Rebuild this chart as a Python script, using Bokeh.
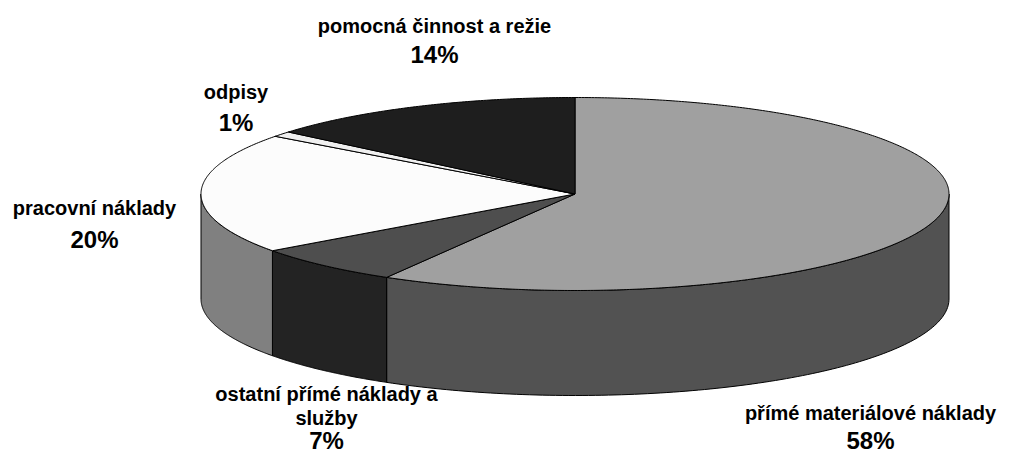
import numpy as np
from bokeh.plotting import figure
from bokeh.models import Range1d
from bokeh.embed import file_html
from bokeh.resources import INLINE
from bokeh.core.properties import value

# ---------------- data ----------------
categories = ["přímé materiálové náklady", "ostatní přímé náklady a služby",
              "pracovní náklady", "odpisy", "pomocná činnost a režie"]
shares = [58.4, 6.6, 20.2, 0.9, 13.9]
label_lines = [["přímé materiálové náklady"],
               ["ostatní přímé náklady a", "služby"],
               ["pracovní náklady"],
               ["odpisy"],
               ["pomocná činnost a režie"]]

# ---------------- styles / layout ----------------
top_colors = ["#a0a0a0", "#4e4e4e", "#fcfcfc", "#f0f0f0", "#1e1e1e"]
side_colors = ["#525252", "#232323", "#808080", "#787878", "#0f0f0f"]
# label anchors: centre x, baseline of first name line, line step, pct baseline
label_anchor = [(870, 418, 27, 446), (326, 399, 24, 446), (94, 213, 27, 245),
                (235.5, 97, 27, 128), (434, 31, 27, 60)]
TEXT_SHIFT = -6

CX, CY, RX, RY, DEPTH = 574.5, 193.5, 374.0, 96.5, 105.0
W, H = 999, 457

p = figure(width=W, height=H, output_backend="svg", toolbar_location=None,
           x_range=Range1d(0, W), y_range=Range1d(H, 0),
           x_axis_location=None, y_axis_location=None, min_border=0,
           outline_line_color=None, background_fill_color="white",
           border_fill_color="white")
p.xgrid.visible = False
p.ygrid.visible = False


def ex(t):
    return CX + RX * np.sin(np.radians(t))


def ey(t):
    return CY - RY * np.cos(np.radians(t))


total = sum(shares)
cum = np.concatenate([[0], np.cumsum(shares)]) / total * 360.0

# side walls (front half only)
sxs, sys, scol = [], [], []
for i in range(len(shares)):
    lo, hi = max(cum[i], 90.0), min(cum[i + 1], 270.0)
    if lo < hi:
        t = np.linspace(lo, hi, 120)
        xs = list(ex(t)) + list(ex(t[::-1]))
        ys = list(ey(t)) + list(ey(t[::-1]) + DEPTH)
        sxs.append(xs)
        sys.append(ys)
        scol.append(side_colors[i])
p.patches(xs=sxs, ys=sys, fill_color=scol, line_color="black", line_width=1,
          line_join="round")

# top wedges
txs, tys = [], []
for i in range(len(shares)):
    t = np.linspace(cum[i], cum[i + 1], max(int((cum[i + 1] - cum[i]) * 2), 4))
    txs.append([CX] + list(ex(t)))
    tys.append([CY] + list(ey(t)))
p.patches(xs=txs, ys=tys, fill_color=top_colors, line_color="black", line_width=1,
          line_join="round")

# labels
nx, ny, nt = [], [], []
px, py, pt = [], [], []
for i, lines in enumerate(label_lines):
    cx, by, step, pb = label_anchor[i]
    for k, ln in enumerate(lines):
        nx.append(cx)
        ny.append(by + k * step + TEXT_SHIFT)
        nt.append(ln)
    px.append(cx)
    py.append(pb + TEXT_SHIFT)
    pt.append(f"{round(shares[i])}%")

p.text(x=nx, y=ny, text=nt, text_font=value("Liberation Sans"),
       text_font_style="bold", text_font_size="20px", text_align="center",
       text_baseline="alphabetic", text_color="black")
p.text(x=px, y=py, text=pt, text_font=value("Liberation Sans"),
       text_font_style="bold", text_font_size="24px", text_align="center",
       text_baseline="alphabetic", text_color="black")

open("out.html", "w").write(file_html(p, INLINE))
